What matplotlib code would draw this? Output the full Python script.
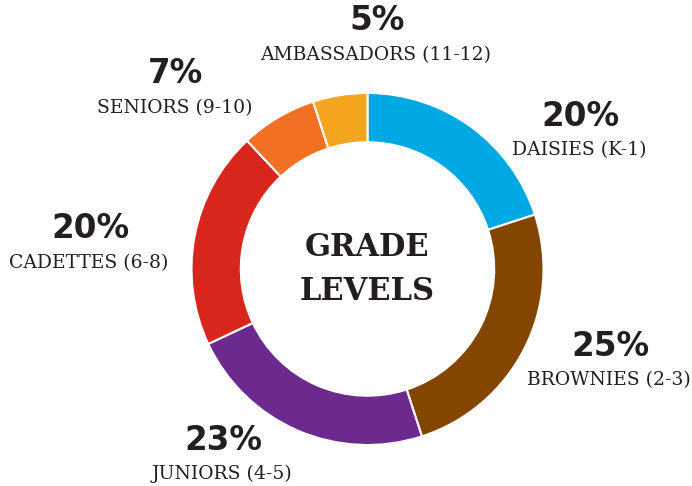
import matplotlib.pyplot as plt

# grade level shares, clockwise from the top
groups = ["DAISIES (K-1)", "BROWNIES (2-3)", "JUNIORS (4-5)",
          "CADETTES (6-8)", "SENIORS (9-10)", "AMBASSADORS (11-12)"]
shares = [20, 25, 23, 20, 7, 5]
colors = ["#00A9E3", "#834500", "#6D2A8E", "#D9261C", "#F36F21", "#F6A51F"]

# label anchor points in pixel coords (x, y from top)
label_pos = [(580, 116), (610, 346), (223, 440), (90, 229), (176, 74), (377, 21)]

W, H = 692, 486
fig = plt.figure(figsize=(W / 100, H / 100), dpi=100)
ax = fig.add_axes([0, 0, 1, 1])

cx, cy, r = 367.5, H - 269, 176
ax.pie(shares, colors=colors, startangle=90, counterclock=False,
       radius=r, center=(cx, cy), frame=True,
       wedgeprops=dict(width=r * 0.28, edgecolor="white", linewidth=1.5))
ax.set_xlim(0, W)
ax.set_ylim(0, H)
ax.set_aspect("equal")
ax.axis("off")

dark = "#231F20"
for name, val, (x, y) in zip(groups, shares, label_pos):
    ax.text(x, H - y, f"{val}%", ha="center", va="center", fontsize=23.5,
            fontweight="heavy", family="DejaVu Sans", color=dark)
    ax.text(x - 1, H - y - 34, name, ha="center", va="center", fontsize=13.5,
            family="DejaVu Serif", color=dark)

ax.text(cx, H - 248, "GRADE", ha="center", va="center", fontsize=22,
        fontweight="bold", family="DejaVu Serif", color=dark)
ax.text(cx, H - 292, "LEVELS", ha="center", va="center", fontsize=22,
        fontweight="bold", family="DejaVu Serif", color=dark)

fig.savefig("out.png", dpi=100, facecolor="white")
